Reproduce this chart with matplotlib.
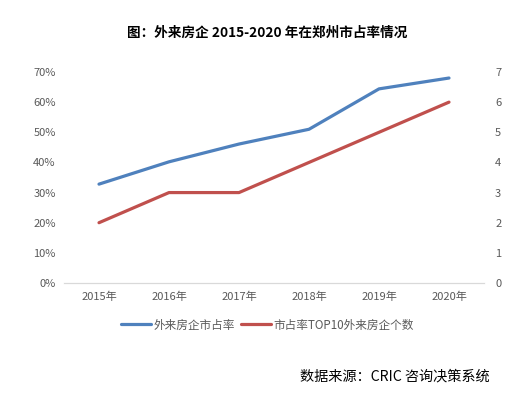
import matplotlib
matplotlib.use("Agg")
import matplotlib.pyplot as plt
from matplotlib.ticker import FuncFormatter

plt.rcParams['font.family'] = ['Noto Sans CJK SC', 'DejaVu Sans']

years = ['2015年', '2016年', '2017年', '2018年', '2019年', '2020年']
share = [32.8, 40.2, 46.1, 51.0, 64.4, 68.0]
count = [2, 3, 3, 4, 5, 6]
pct_ticks = [0, 10, 20, 30, 40, 50, 60, 70]
cnt_ticks = [0, 1, 2, 3, 4, 5, 6, 7]

fig = plt.figure(figsize=(5.19, 3.94), dpi=100)
ax = fig.add_axes([64/519, 1-283/394, 420/519, 211/394])
ax2 = ax.twinx()

x = list(range(len(years)))
l1, = ax.plot(x, share, color='#4F81BD', lw=2.3, solid_capstyle='round', label='外来房企市占率')
l2, = ax2.plot(x, count, color='#C0504D', lw=2.3, solid_capstyle='round', label='市占率TOP10外来房企个数')

ax.set_xlim(-0.5, 5.5)
ax.set_ylim(0, 70)
ax2.set_ylim(0, 7)
ax.set_yticks(pct_ticks)
ax.yaxis.set_major_formatter(FuncFormatter(lambda v, p: f'{int(v)}%'))
ax2.set_yticks(cnt_ticks)
ax.set_xticks(x)
ax.set_xticklabels(years)

for a in (ax, ax2):
    for s in ('top', 'left', 'right'):
        a.spines[s].set_visible(False)
    a.spines['bottom'].set_color('#D9D9D9')
    a.tick_params(length=0, labelsize=8, colors='#595959')
ax.tick_params(axis='y', pad=6)
ax2.tick_params(axis='y', pad=8)
ax.tick_params(axis='x', pad=6)

fig.text(0.515, 1-33/394, '图：外来房企 2015-2020 年在郑州市占率情况', ha='center', va='center',
         fontsize=9.8, fontweight='bold', color='black')
fig.legend(handles=[l1, l2], loc='center', bbox_to_anchor=(0.515, 1-325/394), ncol=2,
           frameon=False, fontsize=8.4, handlelength=2.6, columnspacing=0.5, handletextpad=0.2,
           labelcolor='#595959')
fig.text(490/519, 1-376/394, '数据来源：CRIC 咨询决策系统', ha='right', va='center', fontsize=10.2, color='black')

fig.savefig('out.png', dpi=100)
